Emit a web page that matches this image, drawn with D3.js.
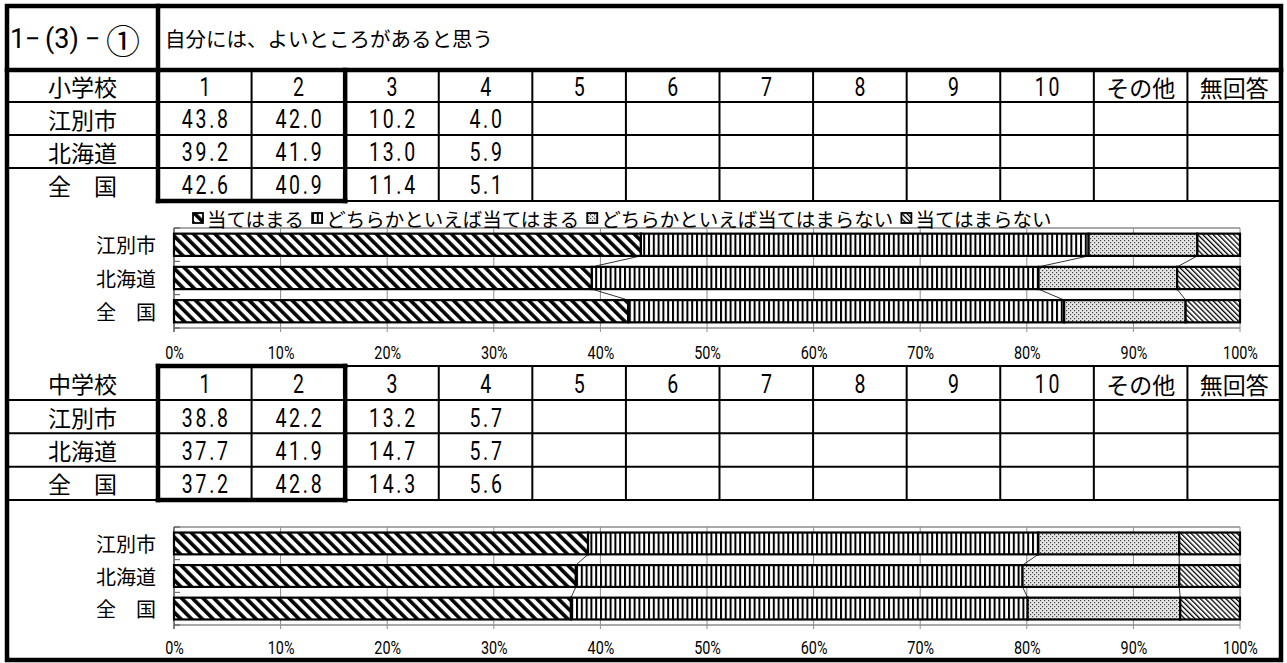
<!DOCTYPE html>
<html lang="ja">
<head>
<meta charset="UTF-8" />
<title>自分には、よいところがあると思う</title>
<script src="https://d3js.org/d3.v7.min.js"></script>
<style>
  html, body { margin: 0; background: #fff; }
  svg { display: block; }
  .jp  { font-family: 'Noto Sans CJK JP', sans-serif; fill: #000; }
  .num { font-family: Roboto, 'Liberation Sans', sans-serif; fill: #000; }
</style>
</head>
<body>
<svg id="chart" width="1287" height="663"></svg>
<script>
// ----- data -----
const questionNo = ['1', '−', '(3)', '−', '①'];
const questionText = '自分には、よいところがあると思う';
const colHeaders = ['1', '2', '3', '4', '5', '6', '7', '8', '9', '10', 'その他', '無回答'];
const regions = ['江別市', '北海道', '全　国'];
const seriesNames = ['当てはまる', 'どちらかといえば当てはまる', 'どちらかといえば当てはまらない', '当てはまらない'];
const elemLabel = '小学校';
const elemValues = [
  [43.8, 42.0, 10.2, 4.0],
  [39.2, 41.9, 13.0, 5.9],
  [42.6, 40.9, 11.4, 5.1]
];
const juniorLabel = '中学校';
const juniorValues = [
  [38.8, 42.2, 13.2, 5.7],
  [37.7, 41.9, 14.7, 5.7],
  [37.2, 42.8, 14.3, 5.6]
];
const xTickValues = [0, 0.1, 0.2, 0.3, 0.4, 0.5, 0.6, 0.7, 0.8, 0.9, 1];

// ----- layout -----
const svg = d3.select('#chart');
const L = 7, R = 1281, T = 6, B = 660;
const firstCol = 158;
const THICK = 4.5, THIN = 2;
const col = d3.scaleBand().domain(colHeaders).range([firstCol, R]);
const boxRight = col('2') + col.bandwidth();
const x = d3.scaleLinear().domain([0, 1]).range([174, 1240]);

// ----- patterns -----
const defs = svg.append('defs');
function stripes(id, size, w, angle) {
  const p = defs.append('pattern').attr('id', id)
    .attr('patternUnits', 'userSpaceOnUse')
    .attr('width', size).attr('height', size)
    .attr('patternTransform', `rotate(${angle})`);
  p.append('rect').attr('width', size).attr('height', size).attr('fill', '#fff');
  p.append('rect').attr('width', w).attr('height', size).attr('fill', '#000');
}
stripes('pat0', 7.6, 3.6, -45);
stripes('pat1', 4.8, 2, 0);
(function () {
  const p = defs.append('pattern').attr('id', 'pat2')
    .attr('patternUnits', 'userSpaceOnUse').attr('width', 4).attr('height', 4);
  p.append('rect').attr('width', 4).attr('height', 4).attr('fill', '#e6e6e6');
  p.append('rect').attr('width', 1.2).attr('height', 1.2).attr('fill', '#444');
  p.append('rect').attr('x', 2).attr('y', 2).attr('width', 1.2).attr('height', 1.2).attr('fill', '#444');
})();
stripes('pat3', 3.6, 1.3, -45);

// ----- helpers -----
function line(x1, y1, x2, y2, w) {
  svg.append('line')
    .attr('x1', x1).attr('y1', y1).attr('x2', x2).attr('y2', y2)
    .attr('stroke', '#000').attr('stroke-width', w).attr('stroke-linecap', 'square');
}
function jpText(str, cx, cy, size, anchor) {
  return svg.append('text').attr('class', 'jp')
    .attr('x', cx).attr('y', cy)
    .attr('text-anchor', anchor || 'middle')
    .attr('dominant-baseline', 'central')
    .style('font-size', size + 'px')
    .text(str);
}
function numText(str, cx, cy, size) {
  svg.append('g').attr('transform', `translate(${cx + 1.5},${cy})`)
    .append('text').attr('class', 'num')
    .attr('transform', 'scale(0.78,1)')
    .attr('text-anchor', 'middle')
    .attr('dominant-baseline', 'central')
    .style('font-size', size + 'px')
    .style('letter-spacing', '3.5px')
    .text(str);
}
function cellText(str, cx, cy) {
  if (/^[0-9.]+$/.test(str)) numText(str, cx, cy, 25);
  else jpText(str, cx, cy, 23);
}

// ----- title row -----
const titleBottom = 70;
const qnX = [10, 25, 45, 85, 106];
const qn = svg.append('text').attr('class', 'num')
  .attr('y', (T + titleBottom) / 2 + 1)
  .attr('dominant-baseline', 'central')
  .style('font-size', '27px');
qn.selectAll('tspan').data(questionNo).enter().append('tspan')
  .attr('x', (d, i) => qnX[i])
  .style('font-family', (d, i) => i === 4 ? "'Noto Sans CJK JP', sans-serif" : null)
  .style('font-size', (d, i) => i === 4 ? '34px' : null)
  .text(d => d);
jpText(questionText, 165, (T + titleBottom) / 2, 20.5, 'start');
line(firstCol, T, firstCol, titleBottom, THICK);
line(L, titleBottom, R, titleBottom, THICK);

// ----- tables -----
function drawTable(headTop, rowTop, bottom, label, values, boxTop) {
  const row = d3.scaleBand().domain(regions).range([rowTop, bottom]);
  // header
  jpText(label, (L + firstCol) / 2, (headTop + rowTop) / 2, 23);
  colHeaders.forEach(c => cellText(c, col(c) + col.bandwidth() / 2, (headTop + rowTop) / 2 + 1));
  regions.forEach((r, i) => {
    const cy = row(r) + row.bandwidth() / 2;
    jpText(r, (L + firstCol) / 2, cy, 23);
    values[i].forEach((v, j) => cellText(d3.format('.1f')(v), col(colHeaders[j]) + col.bandwidth() / 2, cy + 1));
  });
  // horizontal lines
  if (boxTop) {
    line(boxRight, headTop, R, headTop, THIN);
    line(firstCol, headTop, boxRight, headTop, THICK);
  }
  line(L, rowTop, R, rowTop, THIN);
  regions.slice(1).forEach(r => line(L, row(r), R, row(r), THIN));
  line(boxTop ? L : firstCol, bottom, R, bottom, THIN);
  line(firstCol, bottom, boxRight, bottom, THICK);
  // vertical lines
  colHeaders.slice(1).forEach(c => {
    const xx = col(c);
    line(xx, headTop, xx, bottom, xx === boxRight ? THICK : THIN);
  });
  line(firstCol, headTop, firstCol, bottom, THICK);
}
drawTable(titleBottom, 102, 201, elemLabel, elemValues, false);
drawTable(366, 400, 500, juniorLabel, juniorValues, true);

// ----- charts -----
function drawChart(yTop, yBottom, values, legendY, axisY) {
  const y = d3.scaleBand().domain(regions).range([yTop, yBottom]).paddingInner(0.33).paddingOuter(0.17);
  const rows = regions.map((r, i) => {
    const o = { region: r };
    seriesNames.forEach((s, j) => { o[s] = values[i][j]; });
    return o;
  });
  const stack = d3.stack().keys(seriesNames).offset(d3.stackOffsetExpand)(rows);
  const g = svg.append('g');
  const grey = '#8c8c8c';

  // grid and frame
  g.selectAll('line.grid').data(xTickValues.slice(1)).enter().append('line')
    .attr('x1', d => x(d)).attr('x2', d => x(d))
    .attr('y1', yTop).attr('y2', yBottom + 4)
    .attr('stroke', grey).attr('stroke-width', 1);
  g.append('line').attr('x1', x(0)).attr('x2', x(1)).attr('y1', yTop).attr('y2', yTop)
    .attr('stroke', grey).attr('stroke-width', 1.5);
  g.append('line').attr('x1', x(0)).attr('x2', x(1)).attr('y1', yBottom).attr('y2', yBottom)
    .attr('stroke', grey).attr('stroke-width', 1.5);
  g.append('line').attr('x1', x(0)).attr('x2', x(0)).attr('y1', yTop).attr('y2', yBottom + 4)
    .attr('stroke', '#555').attr('stroke-width', 1.5);
  g.selectAll('line.ytick').data(d3.range(regions.length + 1)).enter().append('line')
    .attr('x1', x(0)).attr('x2', x(0) + 6)
    .attr('y1', d => yTop + d * (yBottom - yTop) / regions.length)
    .attr('y2', d => yTop + d * (yBottom - yTop) / regions.length)
    .attr('stroke', '#555').attr('stroke-width', 1);

  // series lines
  stack.slice(0, 3).forEach(layer => {
    for (let i = 0; i < regions.length - 1; i++) {
      g.append('line')
        .attr('x1', x(layer[i][1])).attr('y1', y(regions[i]) + y.bandwidth())
        .attr('x2', x(layer[i + 1][1])).attr('y2', y(regions[i + 1]))
        .attr('stroke', '#000').attr('stroke-width', 0.8);
    }
  });

  // bars
  stack.forEach((layer, k) => {
    g.selectAll(null).data(layer).enter().append('rect')
      .attr('x', d => x(d[0]))
      .attr('width', d => x(d[1]) - x(d[0]))
      .attr('y', d => y(d.data.region))
      .attr('height', y.bandwidth())
      .attr('fill', `url(#pat${k})`)
      .attr('stroke', '#000').attr('stroke-width', 2.2);
  });

  // category labels
  regions.forEach(r => jpText(r, 156, y(r) + y.bandwidth() / 2, 20, 'end'));

  // x axis labels
  const ax = svg.append('g').attr('transform', `translate(0,${axisY})`)
    .call(d3.axisBottom(x).tickValues(xTickValues).tickFormat(d3.format('.0%')).tickSize(0).tickPadding(0));
  ax.select('.domain').remove();
  ax.selectAll('text')
    .attr('y', 0).attr('dy', '0.35em')
    .attr('transform', 'scale(0.8,1)')
    .style('font-family', "Roboto, 'Liberation Sans', sans-serif")
    .style('font-size', '18px').attr('fill', '#000');

  // legend
  if (legendY != null) {
    let lx = 193;
    seriesNames.forEach((s, k) => {
      svg.append('rect').attr('x', lx).attr('y', legendY - 5).attr('width', 10).attr('height', 10)
        .attr('fill', `url(#pat${k})`).attr('stroke', '#000').attr('stroke-width', 1.8);
      const t = jpText(s, lx + 14, legendY, 19.5, 'start');
      lx += 14 + t.node().getComputedTextLength() + 8;
    });
  }
}
drawChart(228, 328, elemValues, 218, 353);
drawChart(527, 625, juniorValues, null, 648);

// ----- outer border -----
svg.append('rect').attr('x', L).attr('y', T).attr('width', R - L).attr('height', B - T)
  .attr('fill', 'none').attr('stroke', '#000').attr('stroke-width', THICK);
</script>
</body>
</html>
